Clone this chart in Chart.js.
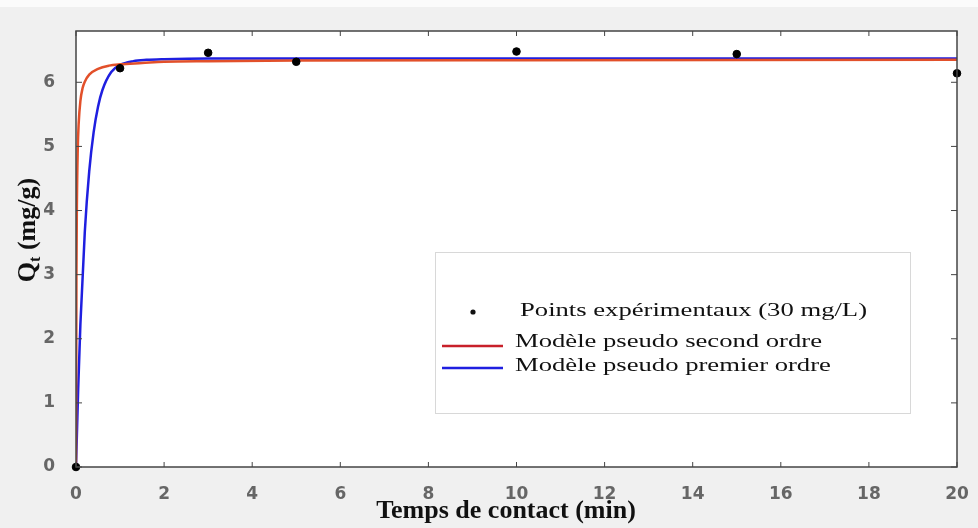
<!DOCTYPE html>
<html lang="fr">
<head>
    <meta charset="UTF-8">
    <title>Cinétique d'adsorption</title>
    <script src="https://cdn.jsdelivr.net/npm/chart.js"></script>
    <style>
        body { margin: 0; background: #f0f0f0; }
        #wrap { width: 978px; height: 528px; position: relative; }
    </style>
</head>
<body>
    <div id="wrap"><canvas id="kinChart"></canvas></div>

    <script>
        // values
        const xTicks = [0, 2, 4, 6, 8, 10, 12, 14, 16, 18, 20];
        const yTicks = [0, 1, 2, 3, 4, 5, 6];

        const expTime = [0, 1, 3, 5, 10, 15, 20];
        const expQt = [0, 6.22, 6.46, 6.32, 6.48, 6.44, 6.14];

        // pseudo second ordre (courbe rouge)
        const psoTime = [0, 0.01, 0.02, 0.04, 0.06, 0.1, 0.15, 0.2, 0.3, 0.5, 0.75, 1, 1.5, 2, 3, 5, 10, 20];
        const psoQt = [0, 2.99, 4.07, 4.96, 5.35, 5.71, 5.91, 6.01, 6.12, 6.21, 6.26, 6.28, 6.30, 6.32, 6.33, 6.34, 6.345, 6.35];

        // pseudo premier ordre (courbe bleue)
        const pfoTime = [0, 0.05, 0.1, 0.2, 0.3, 0.4, 0.5, 0.6, 0.8, 1, 1.3, 1.6, 2, 3, 20];
        const pfoQt = [0, 1.23, 2.23, 3.67, 4.61, 5.22, 5.62, 5.88, 6.16, 6.27, 6.33, 6.35, 6.36, 6.37, 6.37];

        const xTitle = 'Temps de contact (min)';
        const yTitle = ['Q', 't', ' (mg/g)'];

        const toXY = (xs, ys) => xs.map((x, i) => ({ x: x, y: ys[i] }));

        // grey page, white plot area
        const background = {
            id: 'background',
            beforeDraw(chart) {
                const { ctx, chartArea: a, width } = chart;
                ctx.save();
                ctx.fillStyle = '#fbfbfb';
                ctx.fillRect(0, 0, width, 7);
                ctx.fillStyle = '#fff';
                ctx.fillRect(a.left, a.top, a.right - a.left, a.bottom - a.top);
                ctx.restore();
            }
        };

        // box + inward tick marks, like the original plot
        const frame = {
            id: 'frame',
            afterDatasetsDraw(chart) {
                const { ctx, chartArea: a, scales } = chart;
                ctx.save();
                ctx.strokeStyle = '#444';
                ctx.lineWidth = 1.5;
                ctx.strokeRect(a.left, a.top, a.right - a.left, a.bottom - a.top);
                ctx.lineWidth = 1;
                ctx.beginPath();
                xTicks.forEach(v => {
                    const px = scales.x.getPixelForValue(v);
                    ctx.moveTo(px, a.bottom); ctx.lineTo(px, a.bottom - 5);
                    ctx.moveTo(px, a.top); ctx.lineTo(px, a.top + 5);
                });
                yTicks.forEach(v => {
                    const py = scales.y.getPixelForValue(v);
                    ctx.moveTo(a.left, py); ctx.lineTo(a.left + 6, py);
                    ctx.moveTo(a.right, py); ctx.lineTo(a.right - 6, py);
                });
                ctx.stroke();
                ctx.restore();
            }
        };

        // axis titles (serif bold, y title with subscript t)
        const titles = {
            id: 'titles',
            afterDraw(chart) {
                const { ctx } = chart;
                ctx.save();
                ctx.fillStyle = '#111';
                ctx.font = 'bold 26px "Liberation Serif", serif';
                ctx.textAlign = 'center';
                ctx.textBaseline = 'alphabetic';
                ctx.fillText(xTitle, 506, 518);

                ctx.translate(35, 230);
                ctx.rotate(-Math.PI / 2);
                ctx.textAlign = 'left';
                const big = 'bold 26px "Liberation Serif", serif';
                const small = 'bold 16px "Liberation Serif", serif';
                ctx.font = big;
                const w0 = ctx.measureText(yTitle[0]).width;
                const w2 = ctx.measureText(yTitle[2]).width;
                ctx.font = small;
                const w1 = ctx.measureText(yTitle[1]).width;
                let x = -(w0 + w1 + w2) / 2;
                ctx.font = big;
                ctx.fillText(yTitle[0], x, 0);
                x += w0;
                ctx.font = small;
                ctx.fillText(yTitle[1], x, 5);
                x += w1;
                ctx.font = big;
                ctx.fillText(yTitle[2], x, 0);
                ctx.restore();
            }
        };

        // legend box drawn inside the plot (text is horizontally stretched in the figure)
        const legendBox = {
            id: 'legendBox',
            afterDraw(chart) {
                const { ctx } = chart;
                const ds = chart.data.datasets;
                const sx = 1.48;
                const label = (txt, x, y) => {
                    ctx.save();
                    ctx.translate(x, y);
                    ctx.scale(sx, 1);
                    ctx.fillText(txt, 0, 0);
                    ctx.restore();
                };
                ctx.save();
                ctx.fillStyle = '#fff';
                ctx.fillRect(435, 252, 475, 161);
                ctx.strokeStyle = '#d8d8d8';
                ctx.lineWidth = 1;
                ctx.strokeRect(435.5, 252.5, 475, 161);

                ctx.font = '18px "Liberation Serif", serif';
                ctx.fillStyle = '#111';
                ctx.textBaseline = 'alphabetic';

                ctx.beginPath();
                ctx.arc(473, 312, 2.6, 0, Math.PI * 2);
                ctx.fill();
                label(ds[0].label, 520, 316);

                ctx.lineWidth = 2.5;
                ctx.strokeStyle = '#c8202a';
                ctx.beginPath(); ctx.moveTo(442, 346); ctx.lineTo(503, 346); ctx.stroke();
                label(ds[1].label, 515, 347);

                ctx.strokeStyle = ds[2].borderColor;
                ctx.beginPath(); ctx.moveTo(442, 368); ctx.lineTo(503, 368); ctx.stroke();
                label(ds[2].label, 515, 371);
                ctx.restore();
            }
        };

        const tickFont = { family: '"DejaVu Sans"', size: 17, weight: 'bold' };

        const ctx = document.getElementById('kinChart').getContext('2d');
        const kinChart = new Chart(ctx, {
            type: 'scatter',
            data: {
                datasets: [
                    {
                        label: 'Points expérimentaux (30 mg/L)',
                        data: toXY(expTime, expQt),
                        backgroundColor: '#000',
                        borderColor: '#000',
                        pointRadius: 3.8,
                        clip: false
                    },
                    {
                        label: 'Modèle pseudo second ordre',
                        data: toXY(psoTime, psoQt),
                        showLine: true,
                        borderColor: '#e2502a',
                        borderWidth: 2.5,
                        pointRadius: 0,
                        cubicInterpolationMode: 'monotone'
                    },
                    {
                        label: 'Modèle pseudo premier ordre',
                        data: toXY(pfoTime, pfoQt),
                        showLine: true,
                        borderColor: '#1f1fe0',
                        borderWidth: 2.5,
                        pointRadius: 0,
                        cubicInterpolationMode: 'monotone'
                    }
                ]
            },
            options: {
                responsive: true,
                maintainAspectRatio: false,
                animation: false,
                layout: { padding: { left: 0, top: 31, right: 21, bottom: 0 } },
                plugins: {
                    legend: { display: false },
                    tooltip: { enabled: false }
                },
                scales: {
                    x: {
                        type: 'linear',
                        min: 0,
                        max: 20,
                        afterBuildTicks: axis => { axis.ticks = xTicks.map(v => ({ value: v })); },
                        afterFit: axis => { axis.height = 61; },
                        grid: { display: false },
                        border: { display: false },
                        ticks: { padding: 9, color: '#666', font: tickFont }
                    },
                    y: {
                        min: 0,
                        max: 6.8,
                        afterBuildTicks: axis => { axis.ticks = yTicks.map(v => ({ value: v })); },
                        afterFit: axis => { axis.width = 76; },
                        grid: { display: false },
                        border: { display: false },
                        ticks: { padding: 13, color: '#666', font: tickFont }
                    }
                }
            },
            plugins: [background, frame, titles, legendBox]
        });
    </script>
</body>
</html>
